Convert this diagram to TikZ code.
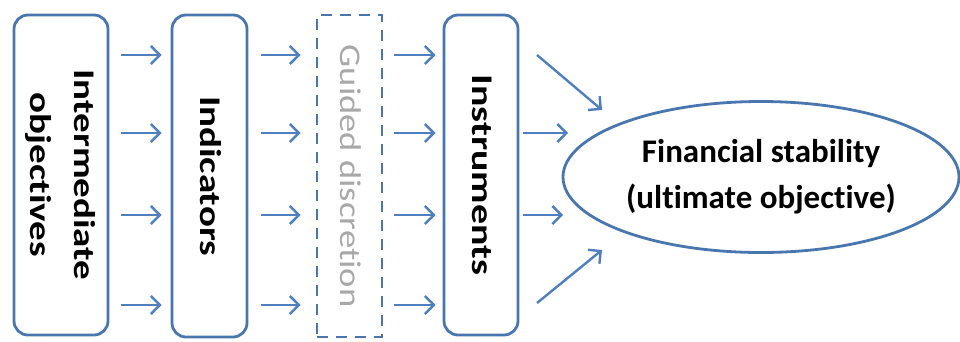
\documentclass[tikz,border=0pt]{standalone}
\usepackage{fontspec}
\setmainfont[Ligatures=NoCommon]{Carlito}
\usetikzlibrary{arrows.meta,shapes.geometric}
\definecolor{bordblue}{HTML}{4A76B0}
\definecolor{arrblue}{HTML}{4F7FBE}
\definecolor{guidegray}{HTML}{A8A8A8}
\newcommand{\vtext}[2]{\rotatebox{-90}{\scalebox{#1}[1]{\begin{tabular}{@{}c@{}}#2\end{tabular}}}}
\begin{document}
\begin{tikzpicture}[x=1pt,y=-1pt,
  stagebox/.style={draw=bordblue, line width=2.8pt, rounded corners=14pt, inner sep=0pt,
    font=\fontsize{30}{44}\selectfont\bfseries},
  guidebox/.style={draw=bordblue, line width=2.8pt, dash pattern=on 11pt off 8pt, inner sep=0pt,
    text=guidegray, font=\fontsize{30}{44}\selectfont},
  goal/.style={ellipse, draw=bordblue, line width=2.8pt, inner sep=0pt, align=center,
    font=\fontsize{33}{46}\selectfont\bfseries},
  arr/.style={draw=arrblue, line width=2.4pt, -{Straight Barb[length=9pt,width=18pt,line width=2.4pt]}}
]
\useasboundingbox (0,0) rectangle (960,341);
\node[stagebox, minimum width=94pt, minimum height=320pt] (b1) at (61,175)
  {\vtext{1.3}{Intermediate\\objectives}};
\node[stagebox, minimum width=75pt, minimum height=322pt] (b2) at (209.5,176)
  {\vtext{1.3}{Indicators}};
\node[guidebox, minimum width=65pt, minimum height=322pt] (b3) at (349.5,176)
  {\vtext{1.22}{Guided discretion}};
\node[stagebox, minimum width=74pt, minimum height=320pt] (b4) at (481,175)
  {\vtext{1.33}{Instruments}};
\node[goal, minimum width=396pt, minimum height=151pt] (g) at (761,177)
  {Financial stability\\(ultimate objective)};

\foreach \yy in {55,133,215,305}{
  \draw[arr, shorten <=12pt, shorten >=9pt] (b1.east |- 0,\yy) -- (b2.west |- 0,\yy);
  \draw[arr, shorten <=13pt, shorten >=15pt] (b2.east |- 0,\yy) -- (b3.west |- 0,\yy);
  \draw[arr, shorten <=11pt, shorten >=7pt] (b3.east |- 0,\yy) -- (b4.west |- 0,\yy);
}
\coordinate (t2) at (568,133);
\coordinate (t3) at (563,215);
\draw[arr, shorten <=4pt] (b4.east |- t2) -- (t2);
\draw[arr, shorten <=4pt] (b4.east |- t3) -- (t3);
\coordinate (s1) at (537,55);
\coordinate (t1) at (602,110);
\coordinate (s4) at (537,303);
\coordinate (t4) at (602,250);
\draw[arr] (s1) -- (t1);
\draw[arr] (s4) -- (t4);
\end{tikzpicture}
\end{document}
